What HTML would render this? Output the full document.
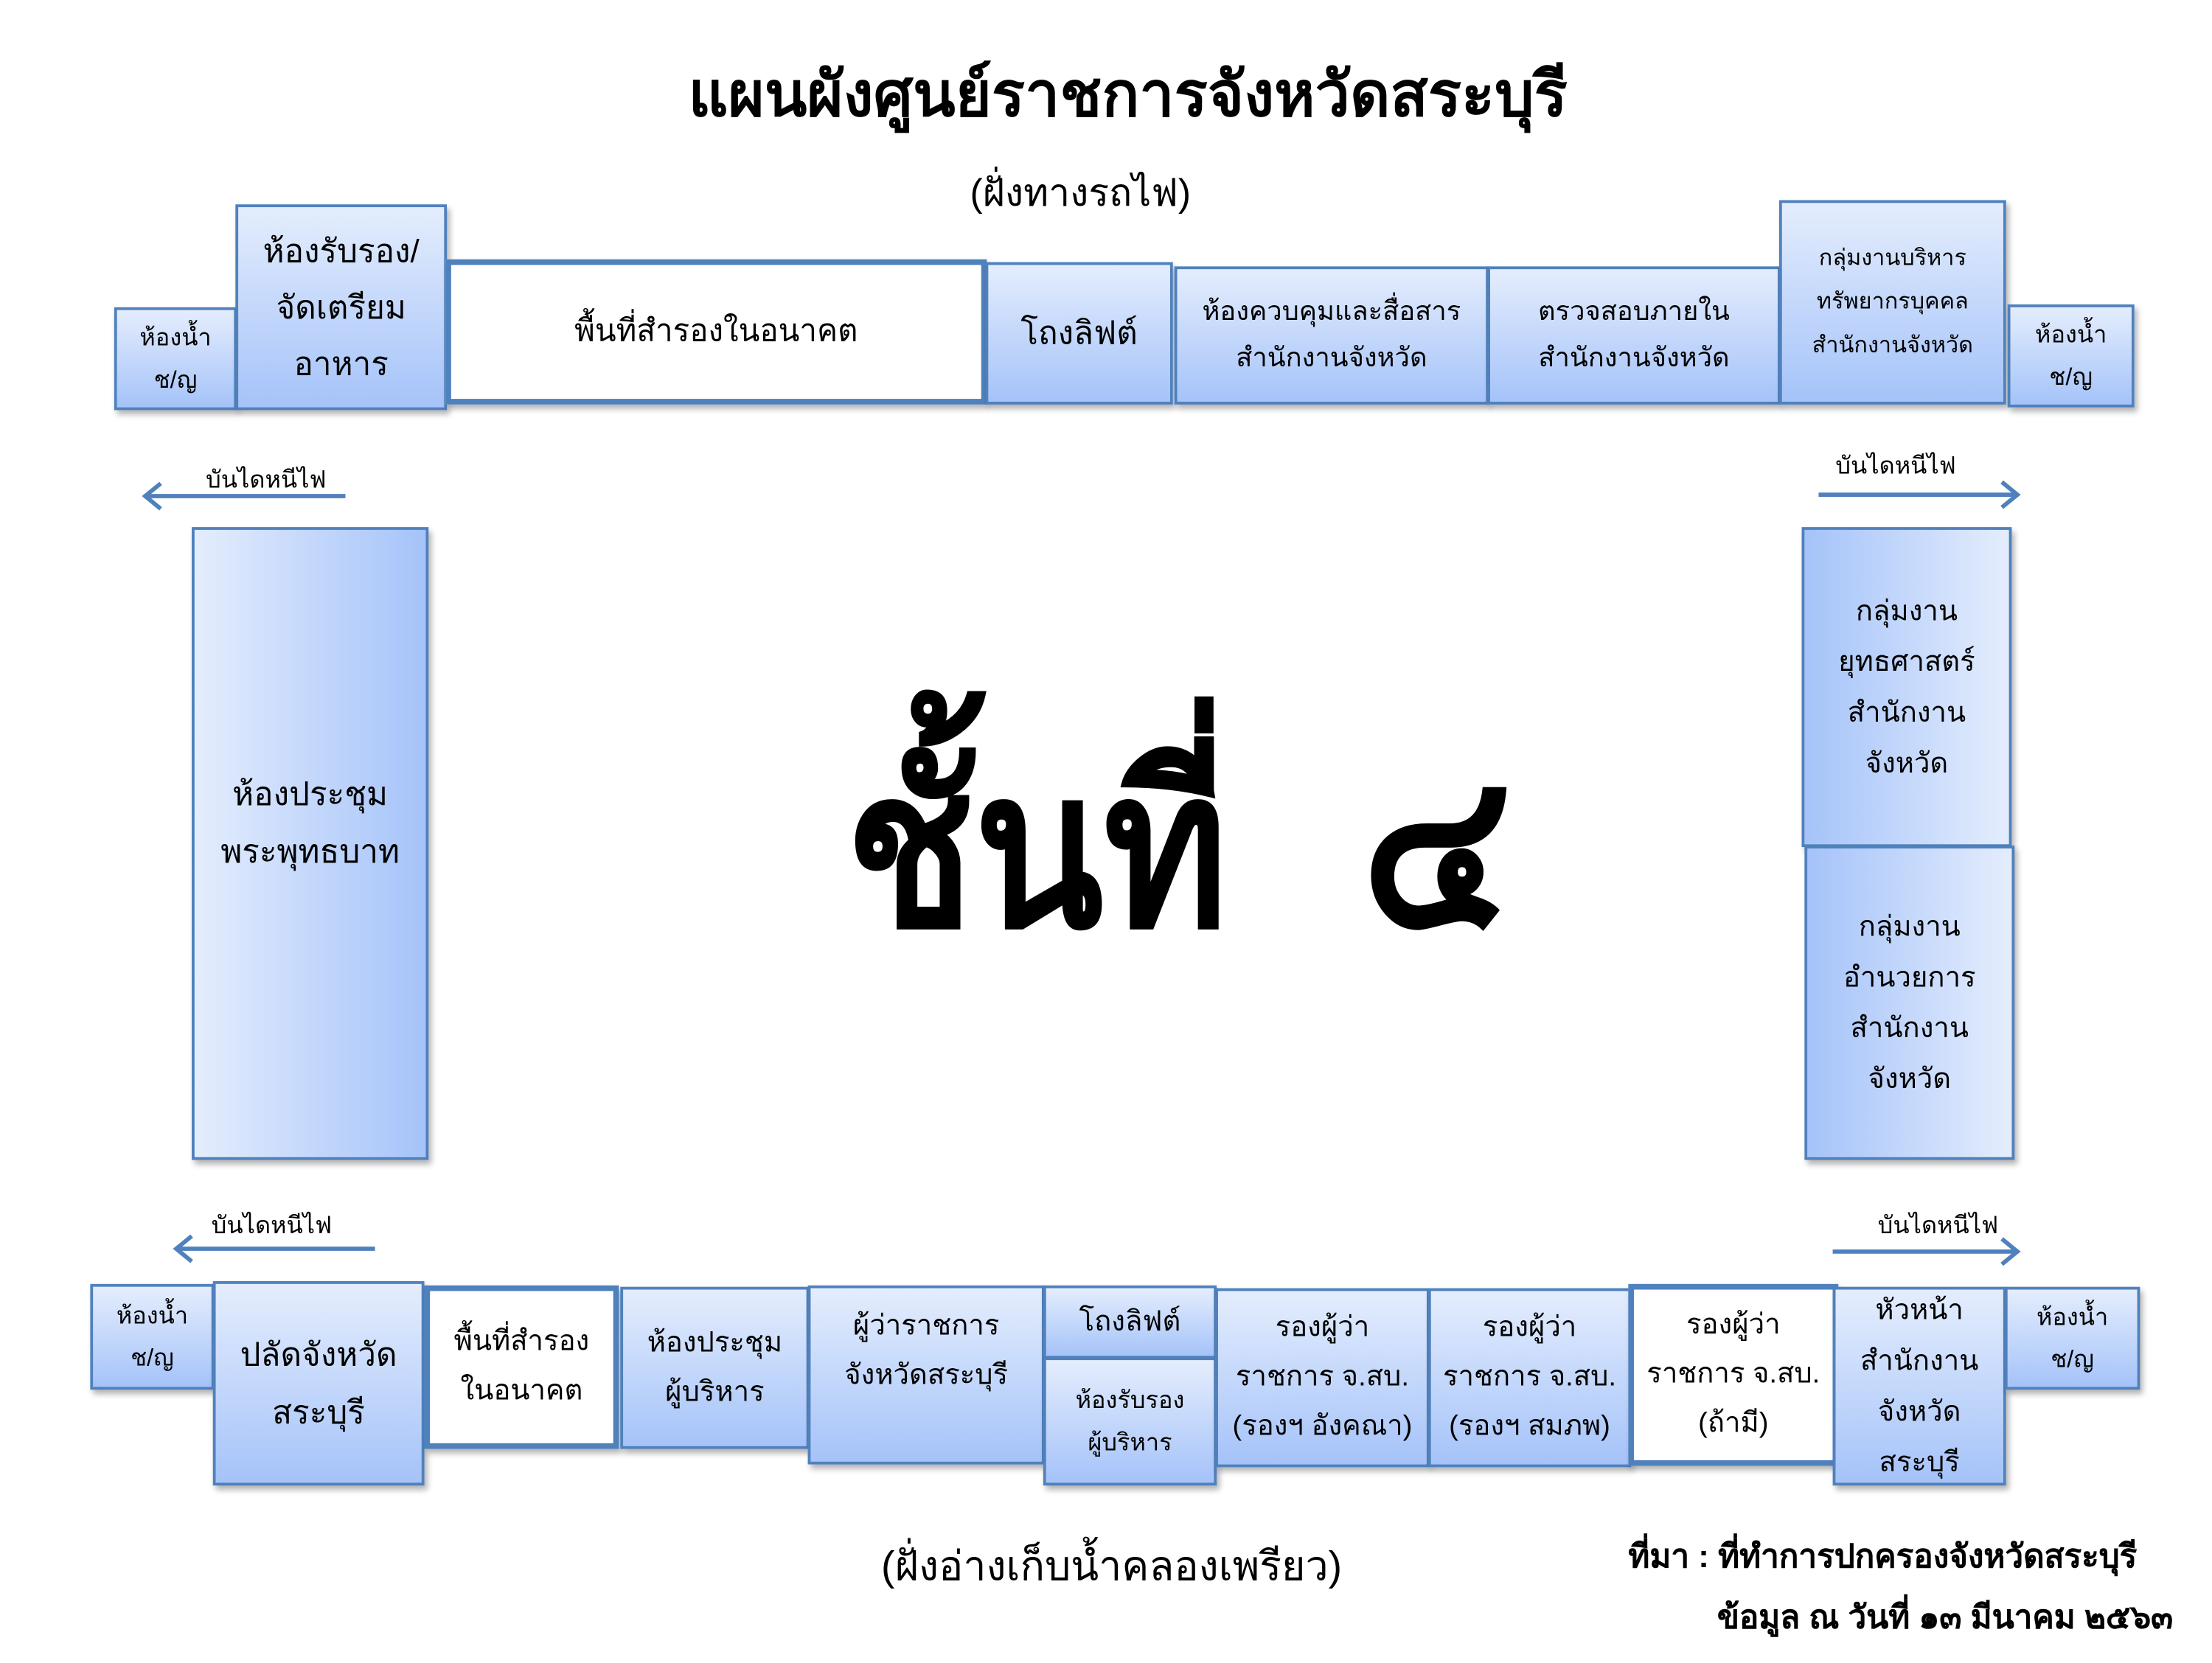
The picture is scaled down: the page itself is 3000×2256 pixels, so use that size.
<!DOCTYPE html>
<html><head><meta charset="utf-8"><style>
html,body{margin:0;padding:0;background:#fff;width:3000px;height:2250px;overflow:hidden}
#w{position:absolute;left:0;top:0;width:1570px;height:1180px;transform:scale(1.912);transform-origin:0 0;font-family:"Liberation Sans","Noto Sans CJK SC",sans-serif;color:#000}
.b{position:absolute;box-sizing:border-box;border:2px solid #4f81bd;background:linear-gradient(#e4edfd,#a5c3f9);box-shadow:2px 3px 4px rgba(0,0,0,.3);display:flex;align-items:center;justify-content:center;text-align:center;line-height:1.75}
.w{background:#fff;border:4px solid #4f81bd}
.h{background:linear-gradient(90deg,#e4edfd,#a5c3f9)}
.hr{background:linear-gradient(90deg,#a5c3f9,#e4edfd)}
.t{position:absolute;white-space:nowrap}
</style></head><body><div id="w">
<div class="t" style="left:0;width:1600px;text-align:center;top:32px;font-size:44px;font-weight:bold">แผนผังศูนย์ราชการจังหวัดสระบุรี</div>
<div class="t" style="left:688px;top:115px;font-size:27px">(ฝั่งทางรถไฟ)</div>

<div class="b" style="left:81px;top:218px;width:87px;height:73px;font-size:17px">ห้องน้ำ<br>ช/ญ</div>
<div class="b" style="left:167px;top:145px;width:150px;height:146px;font-size:23px">ห้องรับรอง/<br>จัดเตรียม<br>อาหาร</div>
<div class="b w" style="left:316px;top:184px;width:384px;height:103px;font-size:22px">พื้นที่สำรองในอนาคต</div>
<div class="b" style="left:699px;top:186px;width:133px;height:101px;font-size:23px">โถงลิฟต์</div>
<div class="b" style="left:833px;top:189px;width:223px;height:98px;font-size:19px">ห้องควบคุมและสื่อสาร<br>สำนักงานจังหวัด</div>
<div class="b" style="left:1055px;top:189px;width:208px;height:98px;font-size:19px">ตรวจสอบภายใน<br>สำนักงานจังหวัด</div>
<div class="b" style="left:1262px;top:142px;width:161px;height:145px;font-size:16px;line-height:1.95">กลุ่มงานบริหาร<br>ทรัพยากรบุคคล<br>สำนักงานจังหวัด</div>
<div class="b" style="left:1424px;top:216px;width:90px;height:73px;font-size:17px">ห้องน้ำ<br>ช/ญ</div>

<div class="t" style="left:146px;top:327px;font-size:17px">บันไดหนีไฟ</div>
<div class="t" style="left:1302px;top:317px;font-size:17px">บันไดหนีไฟ</div>
<div class="t" style="left:150px;top:856px;font-size:17px">บันไดหนีไฟ</div>
<div class="t" style="left:1332px;top:856px;font-size:17px">บันไดหนีไฟ</div>
<svg style="position:absolute;left:0;top:0" width="1560" height="1170">
<g stroke="#4f81bd" stroke-width="3" fill="none">
<path d="M245 352H104M114 343L103 352L114 361"/>
<path d="M1290 351H1430M1420 342L1431 351L1420 360"/>
<path d="M266 886H126M136 877L125 886L136 895"/>
<path d="M1300 888H1430M1420 879L1431 888L1420 897"/>
</g></svg>

<div class="b h" style="left:136px;top:374px;width:168px;height:449px;font-size:23px;padding-bottom:30px">ห้องประชุม<br>พระพุทธบาท</div>
<div class="b hr" style="left:1278px;top:374px;width:149px;height:227px;font-size:20px;line-height:1.8">กลุ่มงาน<br>ยุทธศาสตร์<br>สำนักงาน<br>จังหวัด</div>
<div class="b hr" style="left:1280px;top:600px;width:149px;height:223px;font-size:20px;line-height:1.8">กลุ่มงาน<br>อำนวยการ<br>สำนักงาน<br>จังหวัด</div>

<div class="t" style="left:600px;top:478px;font-size:156px;font-weight:bold;transform:scaleX(0.86);transform-origin:0 0">ชั้นที่</div>
<div class="t" style="left:966px;top:478px;font-size:156px;font-weight:bold;transform:scaleX(0.9);transform-origin:0 0">๔</div>

<div class="b" style="left:64px;top:911px;width:88px;height:75px;font-size:17px">ห้องน้ำ<br>ช/ญ</div>
<div class="b" style="left:151px;top:909px;width:150px;height:145px;font-size:23px">ปลัดจังหวัด<br>สระบุรี</div>
<div class="b w" style="left:301px;top:912px;width:138px;height:116px;font-size:20px">พื้นที่สำรอง<br>ในอนาคต</div>
<div class="b" style="left:440px;top:913px;width:134px;height:115px;font-size:20px">ห้องประชุม<br>ผู้บริหาร</div>
<div class="b" style="left:573px;top:912px;width:168px;height:127px;font-size:20px;align-items:flex-start;padding-top:10px">ผู้ว่าราชการ<br>จังหวัดสระบุรี</div>
<div class="b" style="left:740px;top:912px;width:123px;height:52px;font-size:20px">โถงลิฟต์</div>
<div class="b" style="left:740px;top:963px;width:123px;height:91px;font-size:17px">ห้องรับรอง<br>ผู้บริหาร</div>
<div class="b" style="left:862px;top:914px;width:152px;height:127px;font-size:20px">รองผู้ว่า<br>ราชการ จ.สบ.<br>(รองฯ อังคณา)</div>
<div class="b" style="left:1013px;top:914px;width:144px;height:127px;font-size:20px">รองผู้ว่า<br>ราชการ จ.สบ.<br>(รองฯ สมภพ)</div>
<div class="b w" style="left:1155px;top:911px;width:149px;height:129px;font-size:20px">รองผู้ว่า<br>ราชการ จ.สบ.<br>(ถ้ามี)</div>
<div class="b" style="left:1300px;top:913px;width:123px;height:141px;font-size:20px;line-height:1.8">หัวหน้า<br>สำนักงาน<br>จังหวัด<br>สระบุรี</div>
<div class="b" style="left:1422px;top:913px;width:96px;height:73px;font-size:17px">ห้องน้ำ<br>ช/ญ</div>

<div class="t" style="left:625px;top:1088px;font-size:29px">(ฝั่งอ่างเก็บน้ำคลองเพรียว)</div>
<div class="t" style="left:1155px;top:1087px;font-size:23px;font-weight:bold">ที่มา : ที่ทำการปกครองจังหวัดสระบุรี</div>
<div class="t" style="left:1218px;top:1130px;font-size:23px;font-weight:bold">ข้อมูล ณ วันที่ ๑๓ มีนาคม ๒๕๖๓</div>
</div></body></html>
